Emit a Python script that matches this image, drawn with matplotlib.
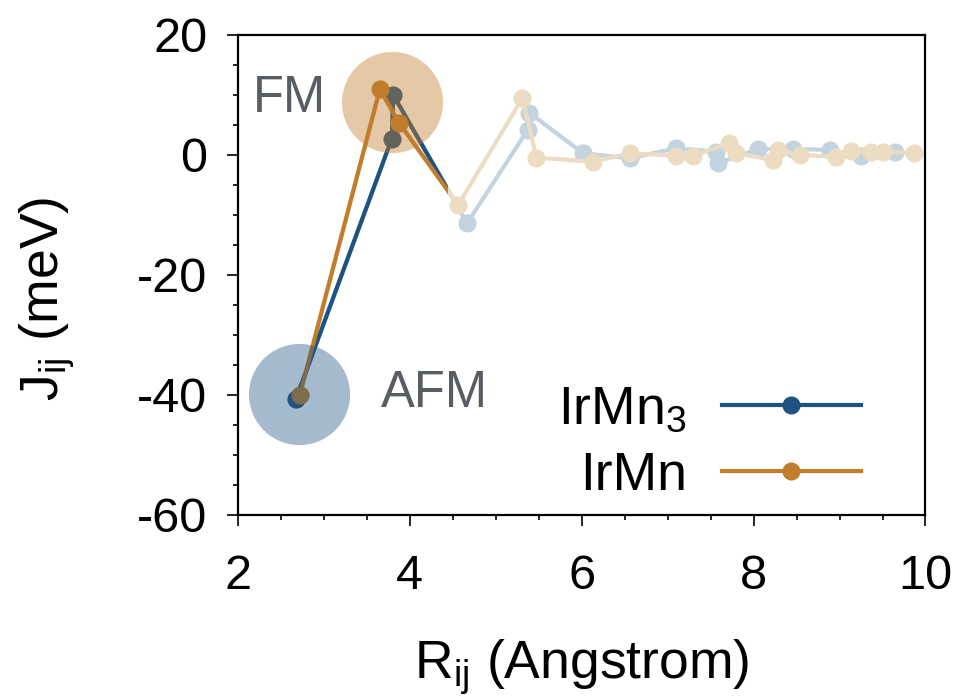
import matplotlib
matplotlib.use("Agg")
import matplotlib.pyplot as plt
from matplotlib.patches import Rectangle

plt.rcParams["font.family"] = ["Liberation Sans", "DejaVu Sans"]
plt.rcParams["mathtext.fontset"] = "custom"
plt.rcParams["mathtext.rm"] = "Liberation Sans"
plt.rcParams["mathtext.it"] = "Liberation Sans"
plt.rcParams["axes.unicode_minus"] = False

# Exchange couplings J_ij (meV) versus pair distance R_ij (Angstrom)
r_irmn3 = [2.674, 3.790, 3.806, 4.667, 5.370, 5.390, 6.015, 6.558, 7.100,
           7.566, 7.586, 8.050, 8.457, 8.884, 9.250, 9.640]
j_irmn3 = [-40.7, 2.66, 9.94, -11.4, 4.1, 7.0, 0.23, -0.6, 1.06,
           0.5, -1.43, 0.95, 0.95, 0.78, -0.17, 0.4]

r_irmn = [2.720, 3.651, 3.872, 4.562, 5.310, 5.473, 6.130, 6.566, 7.093,
          7.300, 7.713, 7.800, 8.225, 8.283, 8.535, 8.960, 9.134, 9.367,
          9.500, 9.870]
j_irmn = [-40.0, 10.9, 5.33, -8.37, 9.39, -0.5, -1.17, 0.23, -0.17,
          -0.17, 1.9, 0.23, -0.88, 0.78, -0.05, -0.33, 0.62, 0.5,
          0.5, 0.23]

# Highlight discs for the ferro- and antiferromagnetic nearest neighbours
fm_center = (3.795, 8.7)
afm_center = (2.715, -39.8)

blue = "#1e5381"
orange = "#c17d2b"
blue_light = "#c3d3df"
orange_light = "#ecdcc2"
bright_cutoff = 4.44

fig = plt.figure(figsize=(9.69, 6.96), dpi=100)
ax = fig.add_axes([0.2456, 0.2601, 0.7095, 0.6903])

lw = 3.0
ms = 12

# faded full series
ax.plot(r_irmn3, j_irmn3, "-o", color=blue_light, lw=lw, ms=ms, zorder=1)
ax.plot(r_irmn, j_irmn, "-o", color=orange_light, lw=lw, ms=ms, zorder=1.1)

# bright near-neighbour part
clip_b = Rectangle((2, -60), bright_cutoff - 2, 80, transform=ax.transData)
clip_o = Rectangle((2, -60), bright_cutoff - 2, 80, transform=ax.transData)
lb, = ax.plot(r_irmn3, j_irmn3, "-o", color=blue, lw=lw, ms=ms, zorder=2)
lb.set_clip_path(clip_b)
ax.scatter([fm_center[0]], [fm_center[1]], s=5300, color=orange, alpha=0.42,
           lw=0, zorder=3)
lo, = ax.plot(r_irmn, j_irmn, "-o", color=orange, lw=lw, ms=ms, zorder=4)
lo.set_clip_path(clip_o)
ax.scatter([afm_center[0]], [afm_center[1]], s=5300, color=blue, alpha=0.4,
           lw=0, zorder=5)

ax.text(2.17, 9.4, "FM", fontsize=36.5, color="#585d63", va="center",
        ha="left", zorder=6)
ax.text(3.66, -39.7, "AFM", fontsize=36.5, color="#585d63", va="center",
        ha="left", zorder=6)

# legend entries
hb, = ax.plot([], [], "-o", color=blue, lw=lw, ms=ms)
ho, = ax.plot([], [], "-o", color=orange, lw=lw, ms=ms)
ax.legend([hb, ho], ["IrMn$_{\\mathregular{3}}$", "IrMn"], loc="lower right",
          bbox_to_anchor=(0.906, 0.03), markerfirst=False, frameon=False,
          fontsize=38.5, handlelength=2.6, handletextpad=0.65,
          labelspacing=0.3, borderpad=0, borderaxespad=0)

ax.set_xlim(2, 10)
ax.set_ylim(-60, 20)
ax.set_xticks([2, 4, 6, 8, 10])
ax.set_yticks([-60, -40, -20, 0, 20])
ax.set_xticks([x * 0.5 + 2 for x in range(17)], minor=True)
ax.set_yticks(list(range(-60, 21, 5)), minor=True)

for s in ax.spines.values():
    s.set_linewidth(1.6)
ax.tick_params(which="both", direction="out", top=False, right=False,
               width=1.2, labelsize=35)
ax.tick_params(which="major", length=8)
ax.tick_params(which="minor", length=3.6)
ax.tick_params(axis="x", pad=20)
ax.tick_params(axis="y", pad=14)

ax.set_xlabel("R$_{\\mathregular{ij}}$ (Angstrom)", fontsize=38.5)
ax.set_ylabel("J$_{\\mathregular{ij}}$ (meV)", fontsize=38.5)
ax.xaxis.set_label_coords(0.5, -0.255)
ax.yaxis.set_label_coords(-0.234, 0.45)

fig.savefig("out.png", dpi=100)
